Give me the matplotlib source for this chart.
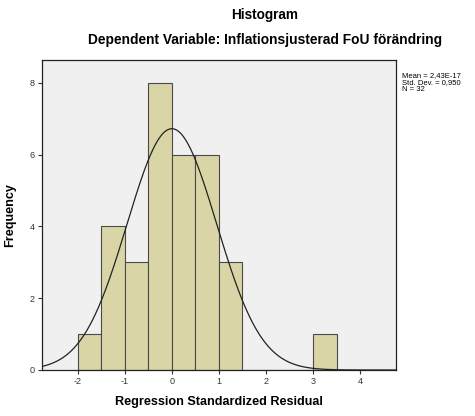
import numpy as np
import matplotlib
matplotlib.use("Agg")
import matplotlib.pyplot as plt

plt.rcParams["font.family"] = ["Liberation Sans", "DejaVu Sans"]
plt.rcParams["axes.unicode_minus"] = False

# histogram data
bin_edges = [-2.0, -1.5, -1.0, -0.5, 0.0, 0.5, 1.0, 1.5, 2.0, 2.5, 3.0, 3.5]
counts = [1, 4, 3, 8, 6, 6, 3, 0, 0, 0, 1]
mean = 2.43e-17
std = 0.950
n = 32

fig = plt.figure(figsize=(4.75, 4.16), dpi=100)
ax = fig.add_axes([0.0884, 0.1106, 0.745, 0.745])
ax.set_facecolor("#F0F0F0")

widths = np.diff(bin_edges)
ax.bar(bin_edges[:-1], counts, width=widths, align="edge",
       color="#DAD5A6", edgecolor="#4a4a4a", linewidth=0.8, zorder=2)

# normal curve scaled to counts
xs = np.linspace(-2.76, 4.76, 400)
bw = 0.5
ys = n * bw / (std * np.sqrt(2 * np.pi)) * np.exp(-0.5 * ((xs - mean) / std) ** 2)
ax.plot(xs, ys, color="#222222", lw=0.9, zorder=3)

ax.set_xlim(-2.76, 4.76)
ax.set_ylim(0, 8.63)
ax.set_xticks([-2, -1, 0, 1, 2, 3, 4])
ax.set_yticks([0, 2, 4, 6, 8])
ax.tick_params(labelsize=6.5, length=3, width=0.8, colors="#333333", pad=2)
for s in ax.spines.values():
    s.set_linewidth(0.9)
    s.set_color("#222222")

ax.set_xlabel("Regression Standardized Residual", fontsize=9.1,
              fontweight="bold", labelpad=7)
ax.set_ylabel("Frequency", fontsize=9.1, fontweight="bold", labelpad=10)

fig.text(0.558, 0.963, "Histogram", ha="center", va="center",
         fontsize=9.8, fontweight="bold")
fig.text(0.558, 0.903, "Dependent Variable: Inflationsjusterad FoU förändring",
         ha="center", va="center", fontsize=9.9, fontweight="bold")

fig.text(0.846, 0.826,
         "Mean = 2,43E-17\nStd. Dev. = 0,950\nN = 32",
         ha="left", va="top", fontsize=5.5, linespacing=1.0)

fig.savefig("out.png", dpi=100)
